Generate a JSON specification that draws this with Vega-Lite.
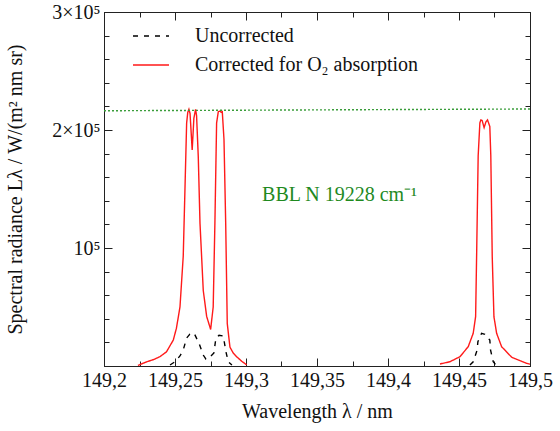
{
  "$schema": "https://vega.github.io/schema/vega-lite/v6.json",
  "width": 426,
  "height": 354,
  "autosize": "none",
  "padding": {"left": 104, "top": 12, "right": 30, "bottom": 65},
  "background": "white",
  "config": {
    "font": "'Liberation Serif', 'Times New Roman', serif",
    "view": {"stroke": "#222222", "strokeWidth": 1},
    "axis": {
      "domainColor": "#222222",
      "tickColor": "#222222",
      "labelFont": "'Liberation Serif', 'Times New Roman', serif",
      "labelFontSize": 20,
      "labelColor": "#111111",
      "titleFont": "'Liberation Serif', 'Times New Roman', serif",
      "titleFontSize": 20,
      "titleFontWeight": "normal",
      "titleColor": "#111111",
      "grid": false
    },
    "legend": {
      "labelFont": "'Liberation Serif', 'Times New Roman', serif"
    }
  },
  "layer": [
    {
      "data": {
        "values": [
          {"wl": 149.2465, "L": 850, "series": "Uncorrected", "seg": "u1"},
          {"wl": 149.25, "L": 3600, "series": "Uncorrected", "seg": "u1"},
          {"wl": 149.2535, "L": 8500, "series": "Uncorrected", "seg": "u1"},
          {"wl": 149.2558, "L": 13600, "series": "Uncorrected", "seg": "u1"},
          {"wl": 149.2582, "L": 23700, "series": "Uncorrected", "seg": "u1"},
          {"wl": 149.2605, "L": 27000, "series": "Uncorrected", "seg": "u1"},
          {"wl": 149.2634, "L": 28000, "series": "Uncorrected", "seg": "u1"},
          {"wl": 149.2671, "L": 18600, "series": "Uncorrected", "seg": "u1"},
          {"wl": 149.2699, "L": 9300, "series": "Uncorrected", "seg": "u1"},
          {"wl": 149.2718, "L": 5900, "series": "Uncorrected", "seg": "u1"},
          {"wl": 149.2739, "L": 6800, "series": "Uncorrected", "seg": "u1"},
          {"wl": 149.2774, "L": 11000, "series": "Uncorrected", "seg": "u1"},
          {"wl": 149.2788, "L": 23700, "series": "Uncorrected", "seg": "u1"},
          {"wl": 149.281, "L": 26000, "series": "Uncorrected", "seg": "u1"},
          {"wl": 149.284, "L": 25400, "series": "Uncorrected", "seg": "u1"},
          {"wl": 149.2859, "L": 11900, "series": "Uncorrected", "seg": "u1"},
          {"wl": 149.2875, "L": 3600, "series": "Uncorrected", "seg": "u1"},
          {"wl": 149.2901, "L": 850, "series": "Uncorrected", "seg": "u1"},
          {"wl": 149.4577, "L": 850, "series": "Uncorrected", "seg": "u2"},
          {"wl": 149.46, "L": 3600, "series": "Uncorrected", "seg": "u2"},
          {"wl": 149.4628, "L": 13600, "series": "Uncorrected", "seg": "u2"},
          {"wl": 149.4633, "L": 20600, "series": "Uncorrected", "seg": "u2"},
          {"wl": 149.4659, "L": 27700, "series": "Uncorrected", "seg": "u2"},
          {"wl": 149.4682, "L": 26900, "series": "Uncorrected", "seg": "u2"},
          {"wl": 149.4717, "L": 22000, "series": "Uncorrected", "seg": "u2"},
          {"wl": 149.4722, "L": 13600, "series": "Uncorrected", "seg": "u2"},
          {"wl": 149.4741, "L": 3600, "series": "Uncorrected", "seg": "u2"},
          {"wl": 149.476, "L": 850, "series": "Uncorrected", "seg": "u2"},
          {"wl": 149.2239, "L": 500, "series": "Corrected for O₂ absorption", "seg": "c1"},
          {"wl": 149.2265, "L": 1800, "series": "Corrected for O₂ absorption", "seg": "c1"},
          {"wl": 149.23, "L": 3500, "series": "Corrected for O₂ absorption", "seg": "c1"},
          {"wl": 149.235, "L": 5500, "series": "Corrected for O₂ absorption", "seg": "c1"},
          {"wl": 149.2394, "L": 7900, "series": "Corrected for O₂ absorption", "seg": "c1"},
          {"wl": 149.244, "L": 12000, "series": "Corrected for O₂ absorption", "seg": "c1"},
          {"wl": 149.2488, "L": 22000, "series": "Corrected for O₂ absorption", "seg": "c1"},
          {"wl": 149.251, "L": 32000, "series": "Corrected for O₂ absorption", "seg": "c1"},
          {"wl": 149.2535, "L": 50000, "series": "Corrected for O₂ absorption", "seg": "c1"},
          {"wl": 149.2558, "L": 93000, "series": "Corrected for O₂ absorption", "seg": "c1"},
          {"wl": 149.257, "L": 149000, "series": "Corrected for O₂ absorption", "seg": "c1"},
          {"wl": 149.2582, "L": 206000, "series": "Corrected for O₂ absorption", "seg": "c1"},
          {"wl": 149.259, "L": 215000, "series": "Corrected for O₂ absorption", "seg": "c1"},
          {"wl": 149.2598, "L": 217500, "series": "Corrected for O₂ absorption", "seg": "c1"},
          {"wl": 149.2606, "L": 214000, "series": "Corrected for O₂ absorption", "seg": "c1"},
          {"wl": 149.2621, "L": 183000, "series": "Corrected for O₂ absorption", "seg": "c1"},
          {"wl": 149.2633, "L": 210000, "series": "Corrected for O₂ absorption", "seg": "c1"},
          {"wl": 149.2645, "L": 217500, "series": "Corrected for O₂ absorption", "seg": "c1"},
          {"wl": 149.2652, "L": 212000, "series": "Corrected for O₂ absorption", "seg": "c1"},
          {"wl": 149.2664, "L": 177000, "series": "Corrected for O₂ absorption", "seg": "c1"},
          {"wl": 149.2676, "L": 121000, "series": "Corrected for O₂ absorption", "seg": "c1"},
          {"wl": 149.2699, "L": 64000, "series": "Corrected for O₂ absorption", "seg": "c1"},
          {"wl": 149.2723, "L": 42000, "series": "Corrected for O₂ absorption", "seg": "c1"},
          {"wl": 149.2751, "L": 31000, "series": "Corrected for O₂ absorption", "seg": "c1"},
          {"wl": 149.2769, "L": 50000, "series": "Corrected for O₂ absorption", "seg": "c1"},
          {"wl": 149.2781, "L": 121000, "series": "Corrected for O₂ absorption", "seg": "c1"},
          {"wl": 149.2793, "L": 206000, "series": "Corrected for O₂ absorption", "seg": "c1"},
          {"wl": 149.2805, "L": 215500, "series": "Corrected for O₂ absorption", "seg": "c1"},
          {"wl": 149.2817, "L": 216000, "series": "Corrected for O₂ absorption", "seg": "c1"},
          {"wl": 149.2825, "L": 215000, "series": "Corrected for O₂ absorption", "seg": "c1"},
          {"wl": 149.2833, "L": 215500, "series": "Corrected for O₂ absorption", "seg": "c1"},
          {"wl": 149.2845, "L": 192000, "series": "Corrected for O₂ absorption", "seg": "c1"},
          {"wl": 149.2857, "L": 121000, "series": "Corrected for O₂ absorption", "seg": "c1"},
          {"wl": 149.2868, "L": 36000, "series": "Corrected for O₂ absorption", "seg": "c1"},
          {"wl": 149.2887, "L": 16000, "series": "Corrected for O₂ absorption", "seg": "c1"},
          {"wl": 149.291, "L": 11000, "series": "Corrected for O₂ absorption", "seg": "c1"},
          {"wl": 149.2934, "L": 7900, "series": "Corrected for O₂ absorption", "seg": "c1"},
          {"wl": 149.297, "L": 4000, "series": "Corrected for O₂ absorption", "seg": "c1"},
          {"wl": 149.3005, "L": 1000, "series": "Corrected for O₂ absorption", "seg": "c1"},
          {"wl": 149.4366, "L": 1700, "series": "Corrected for O₂ absorption", "seg": "c2"},
          {"wl": 149.4436, "L": 3600, "series": "Corrected for O₂ absorption", "seg": "c2"},
          {"wl": 149.4507, "L": 7900, "series": "Corrected for O₂ absorption", "seg": "c2"},
          {"wl": 149.4565, "L": 16400, "series": "Corrected for O₂ absorption", "seg": "c2"},
          {"wl": 149.46, "L": 27700, "series": "Corrected for O₂ absorption", "seg": "c2"},
          {"wl": 149.4617, "L": 41800, "series": "Corrected for O₂ absorption", "seg": "c2"},
          {"wl": 149.4624, "L": 93000, "series": "Corrected for O₂ absorption", "seg": "c2"},
          {"wl": 149.4635, "L": 178000, "series": "Corrected for O₂ absorption", "seg": "c2"},
          {"wl": 149.4647, "L": 206000, "series": "Corrected for O₂ absorption", "seg": "c2"},
          {"wl": 149.4654, "L": 208500, "series": "Corrected for O₂ absorption", "seg": "c2"},
          {"wl": 149.4663, "L": 208000, "series": "Corrected for O₂ absorption", "seg": "c2"},
          {"wl": 149.4677, "L": 202000, "series": "Corrected for O₂ absorption", "seg": "c2"},
          {"wl": 149.469, "L": 207000, "series": "Corrected for O₂ absorption", "seg": "c2"},
          {"wl": 149.4701, "L": 208500, "series": "Corrected for O₂ absorption", "seg": "c2"},
          {"wl": 149.4717, "L": 203000, "series": "Corrected for O₂ absorption", "seg": "c2"},
          {"wl": 149.4724, "L": 178000, "series": "Corrected for O₂ absorption", "seg": "c2"},
          {"wl": 149.4734, "L": 93000, "series": "Corrected for O₂ absorption", "seg": "c2"},
          {"wl": 149.4746, "L": 41800, "series": "Corrected for O₂ absorption", "seg": "c2"},
          {"wl": 149.4765, "L": 27700, "series": "Corrected for O₂ absorption", "seg": "c2"},
          {"wl": 149.48, "L": 16400, "series": "Corrected for O₂ absorption", "seg": "c2"},
          {"wl": 149.4871, "L": 7400, "series": "Corrected for O₂ absorption", "seg": "c2"},
          {"wl": 149.4976, "L": 2300, "series": "Corrected for O₂ absorption", "seg": "c2"},
          {"wl": 149.5, "L": 1500, "series": "Corrected for O₂ absorption", "seg": "c2"}
        ]
      },
      "mark": {"type": "line", "strokeWidth": 1.4, "clip": true},
      "encoding": {
        "x": {
          "field": "wl", "type": "quantitative",
          "scale": {"domain": [149.2, 149.5], "nice": false, "zero": false},
          "axis": {
            "orient": "bottom",
            "title": "Wavelength λ / nm",
            "titlePadding": 8,
            "values": [149.2, 149.225, 149.25, 149.275, 149.3, 149.325, 149.35, 149.375, 149.4, 149.425, 149.45, 149.475, 149.5],
            "labelExpr": "round(datum.value*1000) % 50 == 0 ? replace(format(datum.value, '~r'), '.', ',') : ''",
            "tickSize": {"condition": {"test": "round(datum.value*1000) % 50 == 0", "value": -8}, "value": -5},
            "labelPadding": 12,
            "labelFlush": false,
            "labelOverlap": false
          }
        },
        "y": {
          "field": "L", "type": "quantitative",
          "scale": {"domain": [0, 300000], "nice": false},
          "axis": {
            "orient": "left",
            "title": "Spectral radiance Lλ / W/(m² nm sr)",
            "titlePadding": 26,
            "values": [0, 20000, 40000, 60000, 80000, 100000, 120000, 140000, 160000, 180000, 200000, 220000, 240000, 260000, 280000, 300000],
            "labelExpr": "datum.value == 0 ? '' : datum.value == 100000 ? '10⁵' : datum.value % 100000 == 0 ? (datum.value/100000) + '×10⁵' : ''",
            "tickSize": {"condition": {"test": "datum.value % 100000 == 0", "value": -8}, "value": -5},
            "labelPadding": 12,
            "labelFlush": false,
            "labelOverlap": false
          }
        },
        "color": {
          "field": "series", "type": "nominal",
          "scale": {"domain": ["Uncorrected", "Corrected for O₂ absorption"], "range": ["#000000", "#ff1a1a"]},
          "legend": {
            "title": null,
            "orient": "none",
            "legendX": 28,
            "legendY": 5,
            "padding": 0,
            "symbolType": "stroke",
            "symbolSize": 1296,
            "symbolStrokeWidth": 1.4,
            "labelFont": "'Liberation Serif', 'Times New Roman', serif",
            "labelFontSize": 20,
            "labelColor": "#111111",
            "labelOffset": 25,
            "labelLimit": 400,
            "rowPadding": -7
          }
        },
        "strokeDash": {
          "field": "series", "type": "nominal",
          "scale": {"domain": ["Uncorrected", "Corrected for O₂ absorption"], "range": [[5, 6], [1, 0]]},
          "legend": null
        },
        "detail": {"field": "seg"}
      }
    },
    {
      "data": {"values": [{"wl": 149.2, "L": 216300}, {"wl": 149.5, "L": 217800}]},
      "mark": {"type": "line", "color": "#3a9d3a", "strokeWidth": 1.4, "strokeDash": [2, 2]},
      "encoding": {
        "x": {
          "field": "wl", "type": "quantitative",
          "axis": {
            "orient": "top", "title": null, "labels": false,
            "values": [149.2, 149.225, 149.25, 149.275, 149.3, 149.325, 149.35, 149.375, 149.4, 149.425, 149.45, 149.475, 149.5],
            "tickSize": {"condition": {"test": "round(datum.value*1000) % 50 == 0", "value": -8}, "value": -5}
          }
        },
        "y": {
          "field": "L", "type": "quantitative",
          "axis": {
            "orient": "right", "title": null, "labels": false,
            "values": [0, 20000, 40000, 60000, 80000, 100000, 120000, 140000, 160000, 180000, 200000, 220000, 240000, 260000, 280000, 300000],
            "tickSize": {"condition": {"test": "datum.value % 100000 == 0", "value": -8}, "value": -5}
          }
        }
      }
    },
    {
      "data": {"values": [{"wl": 149.3113, "L": 139800, "label": "BBL N 19228 cm⁻¹"}]},
      "mark": {"type": "text", "align": "left", "baseline": "alphabetic", "font": "'Liberation Serif', 'Times New Roman', serif", "fontSize": 20, "color": "#1f8a1f"},
      "encoding": {
        "x": {"field": "wl", "type": "quantitative", "axis": null},
        "y": {"field": "L", "type": "quantitative", "axis": null},
        "text": {"field": "label"}
      }
    }
  ],
  "resolve": {"axis": {"x": "independent", "y": "independent"}}
}
